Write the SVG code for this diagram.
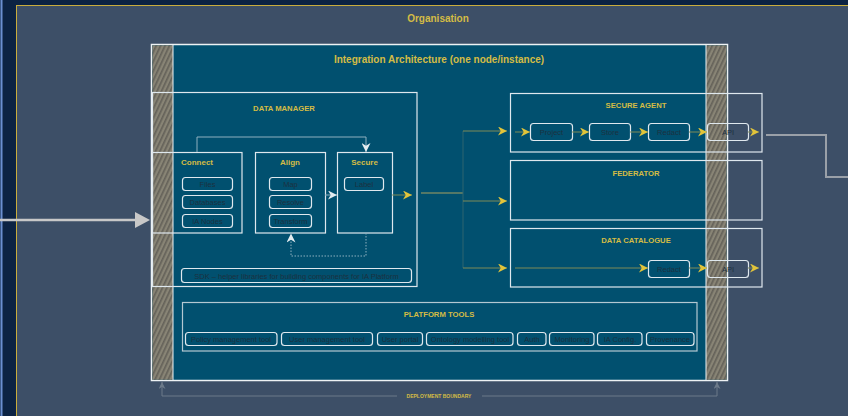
<svg xmlns="http://www.w3.org/2000/svg" width="848" height="416" viewBox="0 0 848 416">
<defs>
<pattern id="hatch" width="4" height="4" patternUnits="userSpaceOnUse" patternTransform="rotate(25)">
<rect width="4" height="4" fill="#7b776a"/>
<rect width="1.5" height="4" fill="#65625a"/>
<rect x="2.5" width="1" height="4" fill="#94907f"/>
</pattern>
<marker id="gold" viewBox="0 0 10 10" refX="10" refY="5" markerWidth="9" markerHeight="9" markerUnits="userSpaceOnUse" orient="auto">
<path d="M0,0 L10,5 L0,10 L3,5 z" fill="#e2c43a"/>
</marker>
<marker id="white" viewBox="0 0 10 10" refX="10" refY="5" markerWidth="9" markerHeight="9" markerUnits="userSpaceOnUse" orient="auto">
<path d="M0,0 L10,5 L0,10 L3,5 z" fill="#e4ecf0"/>
</marker>
<marker id="grey" viewBox="0 0 10 10" refX="10" refY="5" markerWidth="7" markerHeight="7" markerUnits="userSpaceOnUse" orient="auto-start-reverse">
<path d="M0,0 L10,5 L0,10 L3,5 z" fill="#6c7a8a"/>
</marker>
</defs>
<style>
.t{font-family:"Liberation Sans",Arial,sans-serif;font-weight:bold;fill:#d4bc45;text-anchor:middle}
.h{font-size:7.7px}
.s{font-size:8px}
.box{fill:none;stroke:#dfe8ee;stroke-width:1.2}
.item{fill:none;stroke:#dfe8ee;stroke-width:1.2}
.it{font-family:"Liberation Sans",Arial,sans-serif;font-size:7.5px;fill:#1c3040;text-anchor:middle}
.gl{fill:none;stroke:#7e8a58;stroke-width:1;marker-end:url(#gold)}
</style>
<rect width="848" height="416" fill="#0c2343"/>
<rect x="0.5" y="0" width="2" height="416" fill="#6b8fd0"/>
<g id="organisation">
<rect x="16.5" y="5.5" width="840" height="420" fill="#3d4f67" stroke="#c9ad3c" stroke-width="1"/>
<text class="t" x="438" y="22" font-size="10">Organisation</text>
</g>
<g id="integration">
<rect x="151.5" y="44.5" width="576" height="336" fill="#01506f" stroke="#eef2f4" stroke-width="1.5"/>
<rect x="152.3" y="45.3" width="20.7" height="334.5" fill="url(#hatch)"/>
<rect x="706" y="45.3" width="20.7" height="334.5" fill="url(#hatch)"/>
<line x1="173" y1="45" x2="173" y2="380" stroke="#eef2f4" stroke-width="1"/>
<line x1="706" y1="45" x2="706" y2="380" stroke="#eef2f4" stroke-width="1"/>
<text class="t" x="439" y="63" font-size="10">Integration Architecture (one node/instance)</text>
</g>
<g id="deployment-boundary">
<path d="M162,396 H397 M482,396 H717" fill="none" stroke="#6c7a8a" stroke-width="1"/>
<path d="M162,396 V382" fill="none" stroke="#6c7a8a" stroke-width="1" marker-end="url(#grey)"/>
<path d="M717,396 V382" fill="none" stroke="#6c7a8a" stroke-width="1" marker-end="url(#grey)"/>
<text class="t" x="439" y="398" font-size="5">DEPLOYMENT BOUNDARY</text>
</g>
<g id="data-manager">
<rect class="box" x="152.5" y="92.5" width="264.5" height="194"/>
<text class="t h" x="284" y="111">DATA MANAGER</text>
</g>
<g id="connect">
<rect class="box" x="152.5" y="152.5" width="89.5" height="80.5"/>
<text class="t s" x="197" y="165">Connect</text>
<rect class="item" x="182.5" y="177.5" width="50" height="13" rx="3"/>
<text class="it" x="207.5" y="187">Files</text>
<rect class="item" x="182.5" y="195.5" width="50" height="13" rx="3"/>
<text class="it" x="207.5" y="205">Databases</text>
<rect class="item" x="182.5" y="214.5" width="50" height="13" rx="3"/>
<text class="it" x="207.5" y="224">IA Nodes</text>
</g>
<g id="align">
<rect class="box" x="255.5" y="152.5" width="70" height="80.5"/>
<text class="t s" x="290" y="165">Align</text>
<rect class="item" x="269.5" y="177.5" width="42" height="13" rx="3"/>
<text class="it" x="290.5" y="187">Map</text>
<rect class="item" x="269.5" y="195.5" width="42" height="13" rx="3"/>
<text class="it" x="290.5" y="205">Resolve</text>
<rect class="item" x="269.5" y="214.5" width="42" height="13" rx="3"/>
<text class="it" x="290.5" y="224">Transform</text>
</g>
<g id="secure">
<rect class="box" x="337.5" y="152.5" width="55" height="80.5"/>
<text class="t s" x="364.5" y="165">Secure</text>
<rect class="item" x="344.5" y="177.5" width="39" height="13" rx="3"/>
<text class="it" x="364" y="187">Label</text>
</g>
<g id="sdk">
<rect class="item" x="181.5" y="268.5" width="230" height="14" rx="3"/>
<text class="it" x="296.5" y="278.5">SDK – helper libraries for building components for IA Platform</text>
</g>
<g id="secure-agent">
<rect class="box" x="510.5" y="93.5" width="251.5" height="58.5"/>
<text class="t h" x="636" y="108">SECURE AGENT</text>
<rect class="item" x="530.5" y="123.5" width="42" height="17" rx="3"/>
<text class="it" x="551.5" y="135">Project</text>
<rect class="item" x="589.5" y="123.5" width="41" height="17" rx="3"/>
<text class="it" x="610" y="135">Store</text>
<rect class="item" x="648.5" y="123.5" width="41" height="17" rx="3"/>
<text class="it" x="669" y="135">Redact</text>
<rect class="item" x="707.5" y="123.5" width="41" height="17" rx="3"/>
<text class="it" x="728" y="135">API</text>
</g>
<g id="federator">
<rect class="box" x="510.5" y="160.5" width="251.5" height="59.5"/>
<text class="t h" x="636" y="176">FEDERATOR</text>
</g>
<g id="data-catalogue">
<rect class="box" x="510.5" y="228.5" width="251.5" height="58.5"/>
<text class="t h" x="636" y="243">DATA CATALOGUE</text>
<rect class="item" x="648.5" y="260.5" width="41" height="17" rx="3"/>
<text class="it" x="669" y="272">Redact</text>
<rect class="item" x="707.5" y="260.5" width="41" height="17" rx="3"/>
<text class="it" x="728" y="272">API</text>
</g>
<g id="platform-tools">
<rect x="182.5" y="302.5" width="514.5" height="48.5" fill="none" stroke="#b4c8d2" stroke-width="1.2"/>
<text class="t h" x="439" y="317">PLATFORM TOOLS</text>
<rect class="item" x="185.5" y="332.5" width="91.5" height="13" rx="3"/>
<text class="it" x="231" y="342">Policy management tool</text>
<rect class="item" x="281.5" y="332.5" width="91" height="13" rx="3"/>
<text class="it" x="327" y="342">User management tool</text>
<rect class="item" x="377.5" y="332.5" width="45" height="13" rx="3"/>
<text class="it" x="400" y="342">User portal</text>
<rect class="item" x="426.5" y="332.5" width="86.5" height="13" rx="3"/>
<text class="it" x="470" y="342">Ontology modelling tool</text>
<rect class="item" x="517.5" y="332.5" width="28.5" height="13" rx="3"/>
<text class="it" x="532" y="342">Auth</text>
<rect class="item" x="549.5" y="332.5" width="44.5" height="13" rx="3"/>
<text class="it" x="572" y="342">Monitoring</text>
<rect class="item" x="597.5" y="332.5" width="44.5" height="13" rx="3"/>
<text class="it" x="620" y="342">IA Config.</text>
<rect class="item" x="646.5" y="332.5" width="47.5" height="13" rx="3"/>
<text class="it" x="670" y="342">Provenance</text>
</g>
<g id="connectors">
<path d="M0,220 H137" fill="none" stroke="#c8c8c8" stroke-width="2.5"/>
<path d="M135,212 L150,220 L135,228 z" fill="#c8c8c8"/>
<path d="M197,152 V137 H366 V152" fill="none" stroke="#8fb0c0" stroke-width="1" marker-end="url(#white)"/>
<path d="M325,195 H337" fill="none" stroke="#8fb0c0" stroke-width="1" marker-end="url(#white)"/>
<path d="M366,233 V256 H291 V233.5" fill="none" stroke="#8fb0c0" stroke-width="1" stroke-dasharray="1.5,1.5" marker-end="url(#white)"/>
<path d="M392,195 H412" class="gl"/>
<path d="M421,193 H463" fill="none" stroke="#a8a060" stroke-width="1"/>
<path d="M463,131 V268" fill="none" stroke="#2f6570" stroke-width="1"/>
<path d="M463,131 H507" class="gl"/>
<path d="M463,201 H507" class="gl"/>
<path d="M463,268 H507" class="gl"/>
<path d="M515,132 H530" class="gl"/>
<path d="M572,132 H589" class="gl"/>
<path d="M630,132 H648" class="gl"/>
<path d="M689,132 H707" class="gl"/>
<path d="M748,132 H759" class="gl"/>
<path d="M515,268 H648" class="gl"/>
<path d="M689,268 H707" class="gl"/>
<path d="M748,268 H759" class="gl"/>
<path d="M766,135 H826 V177 H848" fill="none" stroke="#9aa0a8" stroke-width="2"/>
</g>
</svg>
